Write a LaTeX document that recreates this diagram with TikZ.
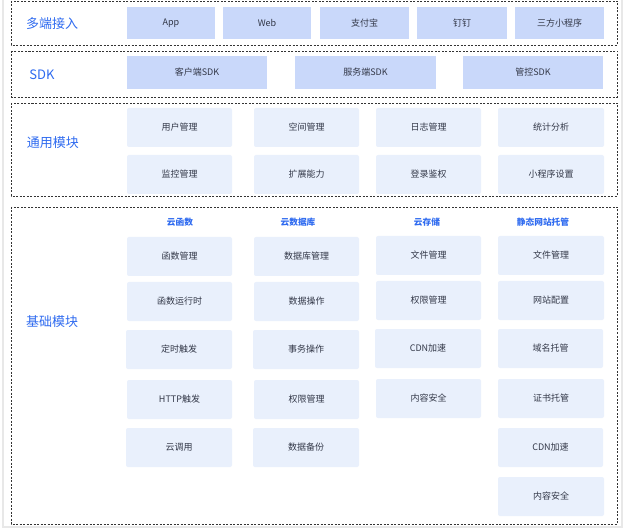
\documentclass[tikz,border=0pt]{standalone}
\usepackage{fontspec}
\setmainfont{Noto Sans CJK SC}
\definecolor{frame}{RGB}{232,232,232}
\definecolor{dark}{RGB}{51,51,51}
\definecolor{blu}{RGB}{47,107,240}
\definecolor{fillA}{RGB}{201,216,250}
\definecolor{fillB}{RGB}{233,240,252}
\definecolor{txt}{RGB}{51,56,72}
\tikzset{
  grp/.style={draw=dark, dash pattern=on 2pt off 1.5pt, line width=0.8pt},
  boxA/.style={fill=fillA, draw=none, font=\fontsize{9}{10}\selectfont, text=txt},
  boxB/.style={fill=fillB, draw=none, rounded corners=2pt, font=\fontsize{9}{10}\selectfont, text=txt},
  bigl/.style={text=blu, font=\fontsize{13}{15}\selectfont},
  hdr/.style={text=blu, font=\fontsize{8.7}{10}\selectfont\bfseries},
}
\newcommand{\bx}[7]{% name, style, x1, y1, x2, y2, text
  \path[#2] (#3,#4) rectangle (#5,#6);
  \node[#2, fill=none, anchor=center] (#1) at ({(#3+#5)/2},{(#4+#6)/2}) {#7};
}
\begin{document}
\begin{tikzpicture}[x=1pt,y=-1pt]
\useasboundingbox (0,0) rectangle (629,529);
\fill[white] (0,0) rectangle (629,529);
\draw[frame, line width=1.2pt] (3,-5) rectangle (622,527);
% group frames
\draw[grp] (11,1) rectangle (617,45);
\draw[grp] (11,51) rectangle (617,97);
\draw[grp] (11,103) rectangle (617,196);
\draw[grp] (11,207) rectangle (617,524);
% labels
\node[bigl] (l1) at (52,24) {多端接入};
\node[bigl] (l2) at (42,75) {SDK};
\node[bigl] (l3) at (53,143) {通用模块};
\node[bigl] (l4) at (52,322) {基础模块};
% row 1
\bx{app}{boxA}{127}{7}{215}{39}{App}
\bx{web}{boxA}{223}{7}{311}{39}{Web}
\bx{alipay}{boxA}{320}{7}{409}{39}{支付宝}
\bx{ding}{boxA}{417}{7}{507}{39}{钉钉}
\bx{mini}{boxA}{515}{7}{604}{39}{三方小程序}
% row 2
\bx{csdk}{boxA}{127}{56}{267}{89}{客户端SDK}
\bx{ssdk}{boxA}{295}{56}{436}{89}{服务端SDK}
\bx{msdk}{boxA}{463}{56}{603}{89}{管控SDK}
% row 3
\bx{u1}{boxB}{127}{108}{232}{147}{用户管理}
\bx{u2}{boxB}{254}{108}{359}{147}{空间管理}
\bx{u3}{boxB}{376}{108}{481}{147}{日志管理}
\bx{u4}{boxB}{498}{108}{604}{147}{统计分析}
\bx{u5}{boxB}{127}{155}{232}{194}{监控管理}
\bx{u6}{boxB}{254}{155}{359}{194}{扩展能力}
\bx{u7}{boxB}{376}{155}{481}{194}{登录鉴权}
\bx{u8}{boxB}{498}{155}{604}{194}{小程序设置}
% headers
\node[hdr] (h1) at (180,222) {云函数};
\node[hdr] (h2) at (298,222) {云数据库};
\node[hdr] (h3) at (427,222) {云存储};
\node[hdr] (h4) at (543,222) {静态网站托管};
% col 1
\bx{f1}{boxB}{127}{237}{232}{276}{函数管理}
\bx{f2}{boxB}{127}{282}{232}{321}{函数运行时}
\bx{f3}{boxB}{126}{330}{232}{369}{定时触发}
\bx{f4}{boxB}{127}{380}{232}{419}{HTTP触发}
\bx{f5}{boxB}{126}{428}{232}{467}{云调用}
% col 2
\bx{d1}{boxB}{254}{237}{359}{276}{数据库管理}
\bx{d2}{boxB}{254}{282}{359}{321}{数据操作}
\bx{d3}{boxB}{253}{330}{359}{369}{事务操作}
\bx{d4}{boxB}{254}{380}{359}{419}{权限管理}
\bx{d5}{boxB}{253}{428}{359}{467}{数据备份}
% col 3
\bx{s1}{boxB}{376}{236}{481}{275}{文件管理}
\bx{s2}{boxB}{376}{281}{481}{320}{权限管理}
\bx{s3}{boxB}{375}{329}{481}{368}{CDN加速}
\bx{s4}{boxB}{376}{379}{481}{418}{内容安全}
% col 4
\bx{w1}{boxB}{498}{236}{604}{275}{文件管理}
\bx{w2}{boxB}{498}{281}{604}{320}{网站配置}
\bx{w3}{boxB}{498}{329}{603}{368}{域名托管}
\bx{w4}{boxB}{498}{379}{604}{418}{证书托管}
\bx{w5}{boxB}{498}{428}{603}{467}{CDN加速}
\bx{w6}{boxB}{498}{477}{604}{516}{内容安全}
\end{tikzpicture}
\end{document}
